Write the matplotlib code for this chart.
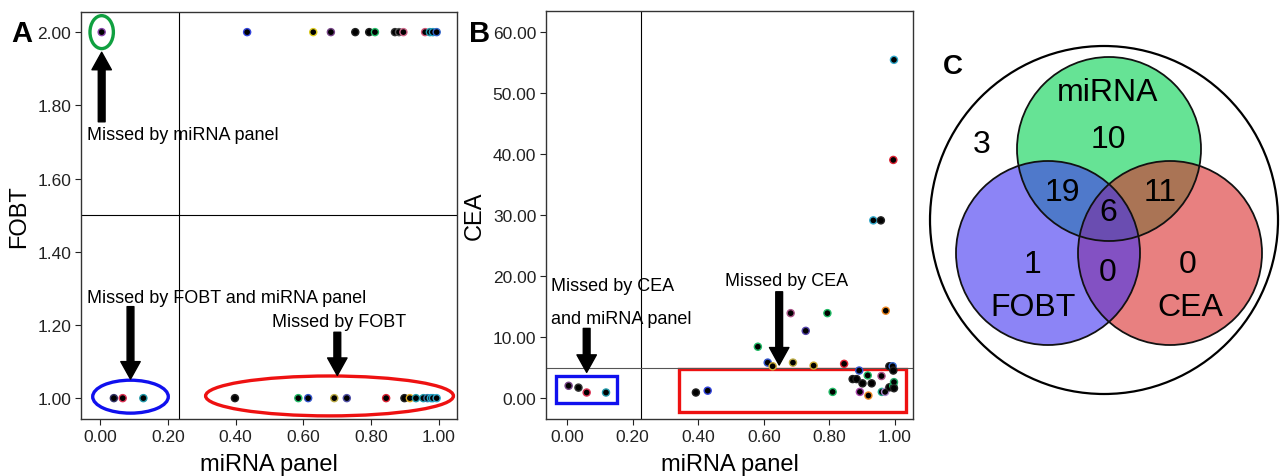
import matplotlib
matplotlib.use('Agg')
import matplotlib.pyplot as plt
from matplotlib.patches import Ellipse, Rectangle, Circle

plt.rcParams['font.family'] = ['Liberation Sans', 'DejaVu Sans']

# ---- panel A data: miRNA panel score vs FOBT result (1 = negative, 2 = positive)
fobt_pos_x = [0.005, 0.434, 0.629, 0.681, 0.753, 0.794, 0.811, 0.870, 0.882, 0.895,
              0.959, 0.973, 0.982, 0.993]
fobt_neg_x = [0.041, 0.067, 0.128, 0.398, 0.585, 0.614, 0.691, 0.728, 0.844, 0.898,
              0.914, 0.932, 0.954, 0.966, 0.976, 0.982, 0.993]
fobt_pos_edge = ['#8844aa', '#3344dd', '#ddcc22', '#774488', '#222222', '#222222', '#22bb66',
                 '#333333', '#555555', '#cc6688', '#cc5577', '#2299aa', '#2299bb', '#3366cc']
fobt_neg_edge = ['#333366', '#dd3355', '#2299aa', '#222222', '#22bb66', '#3355cc', '#bbaa44',
                 '#5555aa', '#dd2233', '#222222', '#ddaa22', '#2299aa', '#2299aa', '#3377aa',
                 '#22aacc', '#2299bb', '#33aacc']

# ---- panel B data: miRNA panel score vs CEA
cea_x = [0.005, 0.035, 0.060, 0.119, 0.393, 0.429, 0.682, 0.794, 0.728, 0.582,
         0.612, 0.627, 0.689, 0.752, 0.845, 0.891, 0.871, 0.883, 0.901, 0.917,
         0.929, 0.810, 0.893, 0.919, 0.959, 0.972, 0.960, 0.970, 0.983, 0.995,
         0.983, 0.993, 0.995, 0.997, 0.997, 0.997, 0.995, 0.934, 0.957]
cea_y = [2.0, 1.7, 0.9, 0.9, 0.9, 1.2, 13.9, 13.9, 11.0, 8.4,
         5.8, 5.2, 5.8, 5.3, 5.6, 4.5, 3.1, 3.1, 2.4, 3.7,
         2.4, 1.0, 1.0, 0.4, 3.6, 14.3, 1.0, 1.0, 1.75, 2.0,
         5.2, 5.2, 4.5, 2.6, 1.6, 55.4, 39.0, 29.1, 29.1]
cea_edge = ['#774488', '#333333', '#dd3355', '#2299aa', '#222222', '#3344dd', '#aa5588',
            '#22bb66', '#5544aa', '#22bb66', '#3355cc', '#ccaa33', '#bbaa44', '#ccaa33',
            '#dd2233', '#3355cc', '#222222', '#222222', '#222222', '#22bb66', '#222222',
            '#22bb66', '#aa44aa', '#ee8822', '#aa5588', '#ee8822', '#22aa88', '#aa88cc',
            '#222222', '#22bb66', '#222222', '#3366cc', '#222222', '#22aa66', '#222222',
            '#33aacc', '#dd2233', '#33aacc', '#222222']

# ---- panel C data: Venn counts
venn_sets = ['miRNA', 'FOBT', 'CEA']
n_outside = 3
n_mirna_only, n_fobt_only, n_cea_only = 10, 1, 0
n_mirna_fobt, n_mirna_cea, n_fobt_cea, n_all = 19, 11, 0, 6

W, H = 1284, 477
fig = plt.figure(figsize=(W / 100, H / 100), dpi=100)

def px_axes(x0, y0, x1, y1):
    return fig.add_axes([x0 / W, 1 - y1 / H, (x1 - x0) / W, (y1 - y0) / H])

def style(ax):
    for s in ax.spines.values():
        s.set_color('#333333')
        s.set_linewidth(1.0)
    ax.tick_params(direction='out', length=4, width=0.8, labelsize=12.5, colors='#222222', pad=3)

arrow_kw = dict(arrowstyle='simple,head_width=1.0,head_length=0.9,tail_width=0.35',
                color='black', shrinkA=0, shrinkB=0, mutation_scale=14)
note_fs = 13
dot_s = 26

# ================= Panel A =================
axA = px_axes(81, 13, 457, 420)
axA.scatter(fobt_pos_x, [2.0] * len(fobt_pos_x), s=dot_s, c='black',
            edgecolors=fobt_pos_edge, linewidths=1.0, zorder=3)
axA.scatter(fobt_neg_x, [1.0] * len(fobt_neg_x), s=dot_s, c='black',
            edgecolors=fobt_neg_edge, linewidths=1.0, zorder=3)
axA.set_xlim(-0.056, 1.053)
axA.set_ylim(0.943, 2.055)
axA.set_xticks([0, 0.2, 0.4, 0.6, 0.8, 1.0])
axA.set_yticks([1.0, 1.2, 1.4, 1.6, 1.8, 2.0])
axA.xaxis.set_major_formatter('{x:.2f}')
axA.yaxis.set_major_formatter('{x:.2f}')
axA.axvline(0.233, color='black', lw=0.8)
axA.axhline(1.5, color='black', lw=0.8)
axA.set_xlabel('miRNA panel', fontsize=17, labelpad=7)
axA.set_ylabel('FOBT', fontsize=17, labelpad=5)
style(axA)

axA.add_patch(Ellipse((0.005, 2.0), 0.069, 0.09, fill=False, ec='#10a040', lw=2.4))
axA.add_patch(Ellipse((0.09, 1.004), 0.223, 0.09, fill=False, ec='#1010ee', lw=2.4))
axA.add_patch(Ellipse((0.677, 1.006), 0.731, 0.109, fill=False, ec='#ee1111', lw=2.4))
axA.annotate('', xy=(0.005, 1.945), xytext=(0.005, 1.755), arrowprops=arrow_kw)
axA.annotate('', xy=(0.09, 1.052), xytext=(0.09, 1.25), arrowprops=arrow_kw)
axA.annotate('', xy=(0.70, 1.062), xytext=(0.70, 1.18), arrowprops=arrow_kw)
axA.text(-0.038, 1.72, 'Missed by miRNA panel', fontsize=note_fs, va='center')
axA.text(-0.038, 1.276, 'Missed by FOBT and miRNA panel', fontsize=note_fs, va='center')
axA.text(0.705, 1.21, 'Missed by FOBT', fontsize=note_fs, va='center', ha='center')

# ================= Panel B =================
axB = px_axes(546, 12, 913, 420)
axB.scatter(cea_x, cea_y, s=dot_s, c='black', edgecolors=cea_edge, linewidths=1.0, zorder=3)
axB.set_xlim(-0.064, 1.055)
axB.set_ylim(-3.44, 63.4)
axB.set_xticks([0, 0.2, 0.4, 0.6, 0.8, 1.0])
axB.set_yticks([0, 10, 20, 30, 40, 50, 60])
axB.xaxis.set_major_formatter('{x:.2f}')
axB.yaxis.set_major_formatter('{x:.2f}')
axB.axvline(0.226, color='black', lw=0.8)
axB.axhline(4.9, color='#555555', lw=0.8)
axB.set_xlabel('miRNA panel', fontsize=17, labelpad=7)
axB.set_ylabel('CEA', fontsize=17, labelpad=5)
style(axB)

axB.add_patch(Rectangle((-0.034, -0.82), 0.187, 4.48, fill=False, ec='#1010ee', lw=2.4))
axB.add_patch(Rectangle((0.34, -2.25), 0.694, 7.0, fill=False, ec='#ee1111', lw=2.4))
axB.annotate('', xy=(0.06, 4.2), xytext=(0.06, 11.4), arrowprops=arrow_kw)
axB.annotate('', xy=(0.647, 5.4), xytext=(0.647, 17.4), arrowprops=arrow_kw)
axB.text(-0.049, 18.4, 'Missed by CEA', fontsize=note_fs, va='center')
axB.text(-0.049, 13.0, 'and miRNA panel', fontsize=note_fs, va='center')
axB.text(0.67, 19.2, 'Missed by CEA', fontsize=note_fs, va='center', ha='center')

# ================= Panel C (Venn) =================
axC = px_axes(920, 0, 1284, 477)
axC.set_xlim(920, 1284)
axC.set_ylim(477, 0)
axC.axis('off')
r = 92
g_c, b_c, r_c = (1109, 150), (1048, 254), (1170, 254)
axC.add_patch(Circle((1104, 221), 174, fill=False, ec='black', lw=1.6))
axC.add_patch(Circle(g_c, r, fc=(0.0, 0.82, 0.31), alpha=0.6, ec='none'))
axC.add_patch(Circle(r_c, r, fc=(0.85, 0.17, 0.17), alpha=0.6, ec='none'))
axC.add_patch(Circle(b_c, r, fc=(0.25, 0.2, 0.94), alpha=0.6, ec='none'))
for c in (g_c, r_c, b_c):
    axC.add_patch(Circle(c, r, fill=False, ec='#111111', lw=1.3))

fs = 23
axC.text(1108, 93, venn_sets[0], fontsize=fs, ha='center', va='center')
axC.text(1033, 308, venn_sets[1], fontsize=fs, ha='center', va='center')
axC.text(1190, 308, venn_sets[2], fontsize=fs, ha='center', va='center')
axC.text(982, 145, str(n_outside), fontsize=fs, ha='center', va='center')
axC.text(1108, 140, str(n_mirna_only), fontsize=fs, ha='center', va='center')
axC.text(1033, 265, str(n_fobt_only), fontsize=fs, ha='center', va='center')
axC.text(1188, 265, str(n_cea_only), fontsize=fs, ha='center', va='center')
axC.text(1062, 193, str(n_mirna_fobt), fontsize=fs, ha='center', va='center')
axC.text(1160, 193, str(n_mirna_cea), fontsize=fs, ha='center', va='center')
axC.text(1108, 273, str(n_fobt_cea), fontsize=fs, ha='center', va='center')
axC.text(1108, 213, str(n_all), fontsize=fs, ha='center', va='center')

# panel letters
fig.text(22 / W, 1 - 34 / H, 'A', fontsize=21, fontweight='bold', ha='center', va='center')
fig.text(480 / W, 1 - 34 / H, 'B', fontsize=21, fontweight='bold', ha='center', va='center')
fig.text(953 / W, 1 - 67 / H, 'C', fontsize=20, fontweight='bold', ha='center', va='center')

fig.savefig('out.png', dpi=100)
